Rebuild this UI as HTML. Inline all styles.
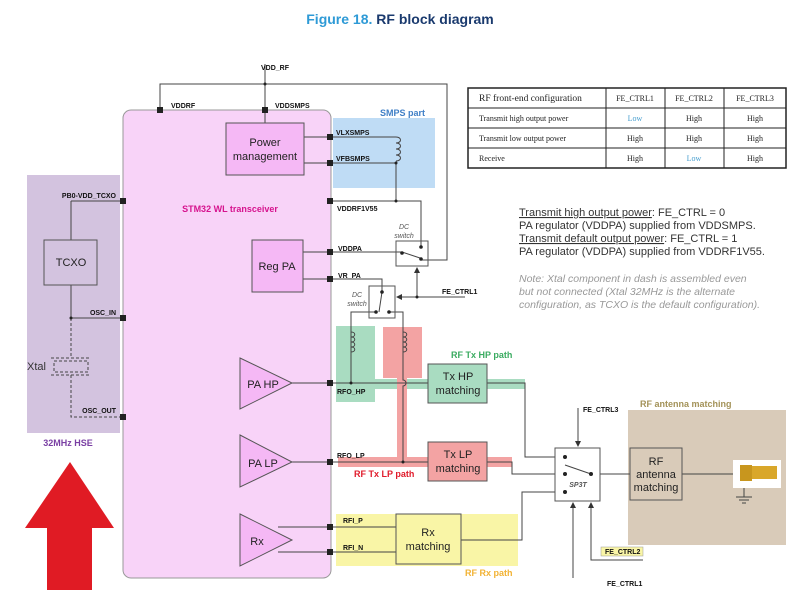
<!DOCTYPE html>
<html><head><meta charset="utf-8"><style>
html,body{margin:0;padding:0;background:#fff;}
svg{display:block;font-family:"Liberation Sans",sans-serif;}
.p{font-size:7px;font-weight:bold;fill:#111;}
.b{font-size:11px;fill:#222;}
.t{font-family:"Liberation Serif",serif;font-size:8px;fill:#222;}
</style></head><body>
<svg width="800" height="608" viewBox="0 0 800 608">
<defs>
<marker id="ar" markerWidth="6" markerHeight="6" refX="5" refY="3" orient="auto"><path d="M0,0 L6,3 L0,6z" fill="#333"/></marker>
</defs>
<text x="400" y="24" text-anchor="middle" font-size="14" font-weight="bold" fill="#2e9ad6">Figure 18. <tspan fill="#1a3a6e">RF block diagram</tspan></text>

<rect x="27" y="175" width="93" height="258" fill="#d3c3df"/>
<rect x="333" y="118" width="102" height="70" fill="#bfdcf5"/>
<rect x="628" y="410" width="158" height="135" fill="#d9cbb9"/>
<rect x="123" y="110" width="208" height="468" rx="8" fill="#f8d3f8" stroke="#999" stroke-width="1"/>
<rect x="336" y="326" width="39" height="76" fill="#a9dcc1"/>
<rect x="336" y="379" width="189" height="10" fill="#a9dcc1"/>
<rect x="383" y="327" width="39" height="51" fill="#f3a3a3"/>
<rect x="397" y="378" width="10" height="82" fill="#f3a3a3"/>
<rect x="338" y="457" width="174" height="10" fill="#f3a3a3"/>
<rect x="336" y="514" width="182" height="52" fill="#f9f5a6"/>

<text x="380" y="116" font-size="9" font-weight="bold" fill="#3f7fc6">SMPS part</text>
<text x="68" y="446" text-anchor="middle" font-size="9" font-weight="bold" fill="#7a3fa3">32MHz HSE</text>
<text x="230" y="212" text-anchor="middle" font-size="9" font-weight="bold" fill="#d6138e">STM32 WL transceiver</text>
<text x="451" y="358" font-size="9" font-weight="bold" fill="#3aab60">RF Tx HP path</text>
<text x="354" y="477" font-size="9" font-weight="bold" fill="#e01b2b">RF Tx LP path</text>
<text x="465" y="576" font-size="9" font-weight="bold" fill="#f2b233">RF Rx path</text>
<text x="640" y="407" font-size="9" font-weight="bold" fill="#a39258">RF antenna matching</text>

<g stroke="#444" stroke-width="1" fill="none">
<path d="M265,64 V110 M160,110 V84 H447 V260 H421"/>
<path d="M265,110 V123"/>
<path d="M304,137 H396 M304,163 H396 M396,163 V201 M330,201 H421 V247"/>
<path d="M396,137 c6,0 6,6 0,6 c6,0 6,6 0,6 c6,0 6,6 0,6 c6,0 6,6 0,6"/>
<path d="M303,252 H402 L420,258"/>
<path d="M303,279 H382 V292 L379,312"/>
<path d="M376,312 H351 V360 M389,312 H403 V360"/>
<path d="M351,332 c5,0 5,5 0,5 c5,0 5,5 0,5 c5,0 5,5 0,5 c5,0 5,5 0,5"/>
<path d="M403,332 c5,0 5,5 0,5 c5,0 5,5 0,5 c5,0 5,5 0,5 c5,0 5,5 0,5"/>
<path d="M351,357 V383 M403,357 V380 a3,3 0 0 1 0,6 V462"/>
<path d="M465,297 H397" marker-end="url(#ar)"/>
<path d="M417,297 V268" marker-end="url(#ar)"/>
<path d="M292,383 H428 M487,383 H525 V457 H555"/>
<path d="M292,462 H428 M487,462 H512 V474 H555"/>
<path d="M278,527 H396 M278,552 H396 M461,540 H522 V492 H555"/>
<path d="M600,474 H630 M682,474 H740"/>
<path d="M578,408 V446" marker-end="url(#ar)"/>
<path d="M573,578 V503" marker-end="url(#ar)"/>
<path d="M643,560 H591 V503" marker-end="url(#ar)"/>
<path d="M565,465 L591,474"/>
<path d="M71,201 H123 M71,201 V240 M71,285 V318 M71,318 H123"/>
<path d="M71,318 V358 M71,375 V417 H123 M51,358 H91 M51,375 H91 M54,361 H88 V372 H54 Z" stroke-dasharray="3,2"/>
<path d="M744,488 V497 M736,497 H752 M739,500 H749 M742,503 H746"/>
</g>
<g fill="#222">
<circle cx="265" cy="84" r="1.5"/><circle cx="396" cy="163" r="1.5"/><circle cx="396" cy="201" r="1.5"/>
<circle cx="417" cy="297" r="1.5"/><circle cx="351" cy="383" r="1.5"/><circle cx="403" cy="462" r="1.5"/><circle cx="71" cy="318" r="1.5"/>
<circle cx="402" cy="253" r="1.8"/><circle cx="421" cy="247" r="1.8"/><circle cx="421" cy="259" r="1.8"/>
<circle cx="382" cy="292" r="1.8"/><circle cx="376" cy="312" r="1.8"/><circle cx="389" cy="312" r="1.8"/>
<circle cx="565" cy="457" r="2"/><circle cx="565" cy="474" r="2"/><circle cx="565" cy="492" r="2"/><circle cx="591" cy="474" r="2"/>
<rect x="157" y="107" width="6" height="6"/><rect x="262" y="107" width="6" height="6"/>
<rect x="327" y="134" width="6" height="6"/><rect x="327" y="160" width="6" height="6"/><rect x="327" y="198" width="6" height="6"/>
<rect x="327" y="249" width="6" height="6"/><rect x="327" y="276" width="6" height="6"/>
<rect x="327" y="380" width="6" height="6"/><rect x="327" y="459" width="6" height="6"/>
<rect x="327" y="524" width="6" height="6"/><rect x="327" y="549" width="6" height="6"/>
<rect x="120" y="198" width="6" height="6"/><rect x="120" y="315" width="6" height="6"/><rect x="120" y="414" width="6" height="6"/>
</g>
<g stroke="#555" stroke-width="1">
<rect x="226" y="123" width="78" height="52" fill="#f5b8f5"/>
<rect x="252" y="240" width="51" height="52" fill="#f5b8f5"/>
<rect x="44" y="240" width="53" height="45" fill="#d3c3df"/>
<rect x="396" y="241" width="32" height="25" fill="none"/>
<rect x="369" y="286" width="26" height="32" fill="none"/>
<rect x="428" y="364" width="59" height="39" fill="#a9dcc1"/>
<rect x="428" y="442" width="59" height="39" fill="#f3a3a3"/>
<rect x="396" y="514" width="65" height="50" fill="#f9f5a6"/>
<rect x="555" y="448" width="45" height="53" fill="none"/>
<rect x="630" y="448" width="52" height="52" fill="#d9cbb9"/>
<path d="M240,358 L292,383 L240,409Z M240,435 L292,462 L240,487Z M240,514 L292,540 L240,566Z" fill="#f5b8f5"/>
</g>
<rect x="601" y="547" width="42" height="9" fill="#f9f5a6" stroke="#999" stroke-width="0.5"/>
<rect x="733" y="460" width="48" height="28" fill="#fff"/>
<rect x="740" y="465" width="12" height="16" fill="#c8961e"/><rect x="752" y="466" width="25" height="13" fill="#d9a72a"/>
<text x="261" y="70" class="p">VDD_RF</text>
<text x="171" y="108" class="p">VDDRF</text><text x="275" y="108" class="p">VDDSMPS</text>
<text x="336" y="135" class="p">VLXSMPS</text><text x="336" y="161" class="p">VFBSMPS</text>
<text x="337" y="211" class="p">VDDRF1V55</text><text x="338" y="251" class="p">VDDPA</text><text x="338" y="278" class="p">VR_PA</text>
<text x="337" y="394" class="p">RFO_HP</text><text x="337" y="458" class="p">RFO_LP</text>
<text x="343" y="523" class="p">RFI_P</text><text x="343" y="550" class="p">RFI_N</text>
<text x="116" y="198" class="p" text-anchor="end">PB0-VDD_TCXO</text>
<text x="116" y="315" class="p" text-anchor="end">OSC_IN</text><text x="116" y="413" class="p" text-anchor="end">OSC_OUT</text>
<text x="442" y="294" class="p">FE_CTRL1</text><text x="583" y="412" class="p">FE_CTRL3</text>
<text x="605" y="554" class="p">FE_CTRL2</text><text x="607" y="586" class="p">FE_CTRL1</text>
<g font-size="7" font-style="italic" fill="#555" text-anchor="middle">
<text x="404" y="229">DC</text><text x="404" y="238">switch</text>
<text x="357" y="297">DC</text><text x="357" y="306">switch</text>
<text x="578" y="487" font-weight="bold">SP3T</text></g>
<g class="b" text-anchor="middle">
<text x="265" y="146">Power</text><text x="265" y="160">management</text>
<text x="277" y="270">Reg PA</text><text x="71" y="266">TCXO</text>
<text x="263" y="388">PA HP</text><text x="263" y="467">PA LP</text><text x="257" y="545">Rx</text>
<text x="458" y="380">Tx HP</text><text x="458" y="394">matching</text>
<text x="458" y="458">Tx LP</text><text x="458" y="472">matching</text>
<text x="428" y="536">Rx</text><text x="428" y="550">matching</text>
<text x="656" y="465">RF</text><text x="656" y="478">antenna</text><text x="656" y="491">matching</text>
</g>
<text x="27" y="370" font-size="11" fill="#333">Xtal</text>
<g stroke="#222" fill="none"><rect x="468" y="88" width="318" height="80" stroke-width="1.5"/>
<path d="M468,108 H786 M468,128 H786 M468,148 H786 M606,88 V168 M665,88 V168 M724,88 V168" stroke-width="1"/></g>
<g class="t"><text x="479" y="101" font-size="9.5">RF front-end configuration</text>
<text x="479" y="121">Transmit high output power</text><text x="479" y="141">Transmit low output power</text><text x="479" y="161">Receive</text></g>
<g class="t" text-anchor="middle" fill="#5a3a8a">
<text x="635" y="101" fill="#222">FE_CTRL1</text><text x="694" y="101" fill="#222">FE_CTRL2</text><text x="755" y="101" fill="#222">FE_CTRL3</text>
<text x="635" y="121" fill="#4aa0d0">Low</text><text x="694" y="121">High</text><text x="755" y="121">High</text>
<text x="635" y="141">High</text><text x="694" y="141">High</text><text x="755" y="141">High</text>
<text x="635" y="161">High</text><text x="694" y="161" fill="#4aa0d0">Low</text><text x="755" y="161">High</text></g>
<g font-size="11" fill="#333">
<text x="519" y="216"><tspan text-decoration="underline">Transmit high output power</tspan>: FE_CTRL = 0</text>
<text x="519" y="229">PA regulator (VDDPA) supplied from VDDSMPS.</text>
<text x="519" y="242"><tspan text-decoration="underline">Transmit default output power</tspan>: FE_CTRL = 1</text>
<text x="519" y="255">PA regulator (VDDPA) supplied from VDDRF1V55.</text></g>
<g font-size="10.5" fill="#999" font-style="italic">
<text x="519" y="282">Note: Xtal component in dash is assembled even</text>
<text x="519" y="295">but not connected (Xtal 32MHz is the alternate</text>
<text x="519" y="308">configuration, as TCXO is the default configuration).</text></g>
<path d="M70,462 L114,528 H92 V590 H47 V528 H25 Z" fill="#e01b24"/>
</svg>
</body></html>
